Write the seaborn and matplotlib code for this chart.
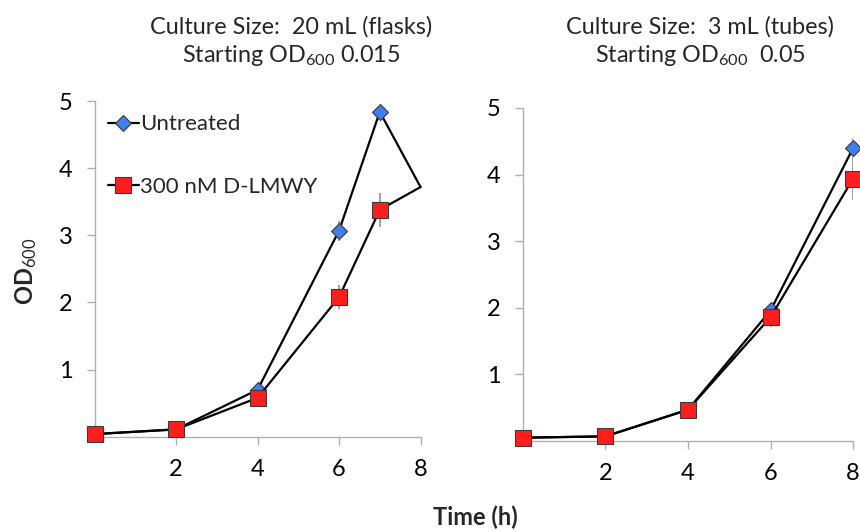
import matplotlib
matplotlib.use("Agg")
import matplotlib.pyplot as plt
import seaborn as sns
import pandas as pd
import numpy as np

# ---- data ----
time_left = [0, 2, 4, 6, 7, 8]
untreated_left = [0.04, 0.11, 0.70, 3.07, 4.84, 3.72]
untreated_left_err = [0.0, 0.0, 0.0, 0.15, 0.0, 0.0]
treated_left = [0.04, 0.11, 0.58, 2.08, 3.38, 3.72]
treated_left_err = [0.0, 0.0, 0.0, 0.18, 0.25, 0.0]

time_right = [0, 2, 4, 6, 8]
untreated_right = [0.05, 0.07, 0.47, 1.96, 4.40]
untreated_right_err = [0.0, 0.0, 0.0, 0.05, 0.15]
treated_right = [0.05, 0.07, 0.47, 1.86, 3.94]
treated_right_err = [0.0, 0.0, 0.0, 0.15, 0.32]

series_names = ["Untreated", "300 nM D-LMWY"]
titles = ["Culture Size:  20 mL (flasks)\nStarting OD$_{600}$ 0.015",
          "Culture Size:  3 mL (tubes)\nStarting OD$_{600}$  0.05"]
x_ticks = [2, 4, 6, 8]
y_ticks = [1, 2, 3, 4, 5]

sns.set_theme(style="white")
plt.rcParams["font.family"] = ["Lato", "DejaVu Sans"]
plt.rcParams["mathtext.fontset"] = "custom"
plt.rcParams["mathtext.rm"] = "Lato"
plt.rcParams["mathtext.it"] = "Lato"
plt.rcParams["mathtext.bf"] = "Lato:bold"

fig = plt.figure(figsize=(8.6, 5.32), dpi=100)
ax1 = fig.add_axes([0.110, 0.179, 0.379, 0.631])
ax2 = fig.add_axes([0.608, 0.171, 0.384, 0.626])

blue = "#3E7FEA"
red = "#FF1E1E"
edge = "#3a3a3a"
grey = "#9a9a9a"

def draw(ax, t, u, ue, tr, tre, ylim_top, skip_last):
    df = pd.DataFrame({
        "Time": t + t,
        "OD": u + tr,
        "Series": [series_names[0]] * len(t) + [series_names[1]] * len(t),
    })
    n = len(t)
    mk = list(range(n - 1)) if skip_last else list(range(n))
    ax.errorbar(t, u, yerr=ue, fmt="none", ecolor=grey, elinewidth=1.3, capsize=0, zorder=2)
    ax.errorbar(t, tr, yerr=tre, fmt="none", ecolor=grey, elinewidth=1.3, capsize=0, zorder=2)
    for name, color, marker, ms in [(series_names[0], blue, "D", 8.5), (series_names[1], red, "s", 12)]:
        sub = df[df["Series"] == name]
        sns.lineplot(data=sub, x="Time", y="OD", ax=ax, color="black", linewidth=1.6,
                     marker=marker, markersize=ms, markerfacecolor=color,
                     markeredgecolor=edge, markeredgewidth=0.8, markevery=mk,
                     label=name, legend=False, zorder=3, clip_on=False)
    ax.set_xlim(0, 8)
    ax.set_ylim(0, ylim_top)
    ax.set_xticks(x_ticks)
    ax.set_yticks(y_ticks)
    ax.set_xlabel("")
    ax.set_ylabel("")
    for s in ["top", "right"]:
        ax.spines[s].set_visible(False)
    for s in ["left", "bottom"]:
        ax.spines[s].set_color("#b0b0b0")
        ax.spines[s].set_linewidth(1.0)
    ax.tick_params(axis="both", which="major", direction="out", length=6, width=1.0,
                   color="#b0b0b0", labelsize=17, labelcolor="black", pad=10,
                   bottom=True, left=True)

draw(ax1, time_left, untreated_left, untreated_left_err, treated_left, treated_left_err, 5, True)
draw(ax2, time_right, untreated_right, untreated_right_err, treated_right, treated_right_err, 5, False)

fig.text(0.338, 1 - 42 / 532, titles[0], fontsize=16.8, ha="center", va="center",
         linespacing=1.25, multialignment="center")
fig.text(0.814, 1 - 42 / 532, titles[1], fontsize=16.8, ha="center", va="center",
         linespacing=1.25, multialignment="center")

leg = ax1.legend(loc="upper left", frameon=False, fontsize=16, labelspacing=1.9,
                 handlelength=1.4, handletextpad=0.05, borderaxespad=0.2,
                 bbox_to_anchor=(0.0, 1.0))

fig.text(0.030, 0.49, "OD$_{600}$", rotation=90, fontsize=17, fontweight="bold",
         ha="center", va="center")
fig.text(0.553, 0.027, "Time (h)", fontsize=17, fontweight="bold", ha="center", va="center")

fig.savefig("out.png", dpi=100)
